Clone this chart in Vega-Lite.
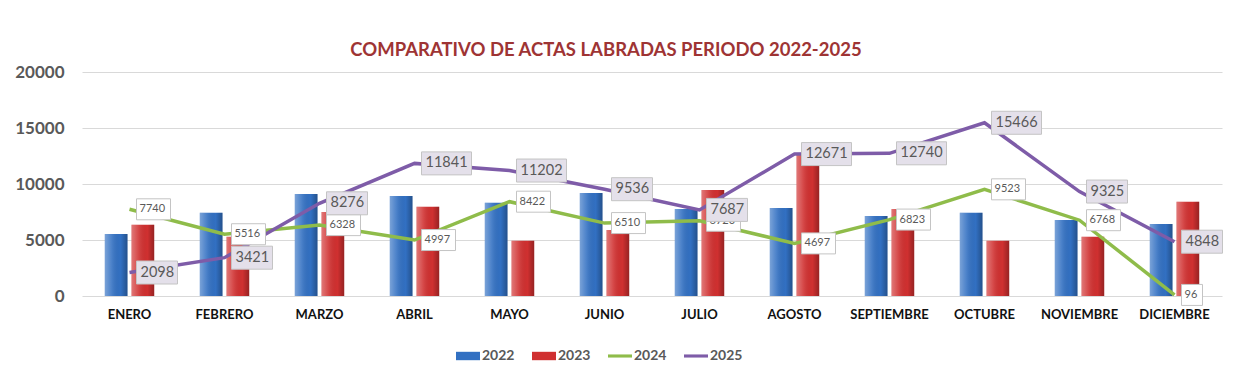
{
  "$schema": "https://vega.github.io/schema/vega-lite/v6.json",
  "autosize": {"type": "none"},
  "width": 1140,
  "height": 224,
  "padding": {"left": 82, "top": 72, "right": 28, "bottom": 93},
  "background": "white",
  "title": {
    "text": "COMPARATIVO DE ACTAS LABRADAS PERIODO 2022-2025",
    "font": "Lato",
    "fontSize": 18.5,
    "fontWeight": "bold",
    "color": "#9e3434",
    "anchor": "middle",
    "dx": -46,
    "offset": 4
  },
  "config": {
    "view": {"stroke": null},
    "font": "Lato"
  },
  "data": {
    "values": [
      {"month": "ENERO", "year": "2022", "value": 5540},
      {"month": "FEBRERO", "year": "2022", "value": 7440},
      {"month": "MARZO", "year": "2022", "value": 9100},
      {"month": "ABRIL", "year": "2022", "value": 8930},
      {"month": "MAYO", "year": "2022", "value": 8330},
      {"month": "JUNIO", "year": "2022", "value": 9190},
      {"month": "JULIO", "year": "2022", "value": 7770},
      {"month": "AGOSTO", "year": "2022", "value": 7850},
      {"month": "SEPTIEMBRE", "year": "2022", "value": 7140},
      {"month": "OCTUBRE", "year": "2022", "value": 7440},
      {"month": "NOVIEMBRE", "year": "2022", "value": 6790},
      {"month": "DICIEMBRE", "year": "2022", "value": 6430},
      {"month": "ENERO", "year": "2023", "value": 6370},
      {"month": "FEBRERO", "year": "2023", "value": 5290},
      {"month": "MARZO", "year": "2023", "value": 7500},
      {"month": "ABRIL", "year": "2023", "value": 7970},
      {"month": "MAYO", "year": "2023", "value": 4940},
      {"month": "JUNIO", "year": "2023", "value": 5890},
      {"month": "JULIO", "year": "2023", "value": 9460},
      {"month": "AGOSTO", "year": "2023", "value": 12600},
      {"month": "SEPTIEMBRE", "year": "2023", "value": 7760},
      {"month": "OCTUBRE", "year": "2023", "value": 4940},
      {"month": "NOVIEMBRE", "year": "2023", "value": 5300},
      {"month": "DICIEMBRE", "year": "2023", "value": 8420},
      {"month": "ENERO", "year": "2024", "value": 7740},
      {"month": "FEBRERO", "year": "2024", "value": 5516},
      {"month": "MARZO", "year": "2024", "value": 6328},
      {"month": "ABRIL", "year": "2024", "value": 4997},
      {"month": "MAYO", "year": "2024", "value": 8422},
      {"month": "JUNIO", "year": "2024", "value": 6510},
      {"month": "JULIO", "year": "2024", "value": 6720},
      {"month": "AGOSTO", "year": "2024", "value": 4697},
      {"month": "SEPTIEMBRE", "year": "2024", "value": 6823},
      {"month": "OCTUBRE", "year": "2024", "value": 9523},
      {"month": "NOVIEMBRE", "year": "2024", "value": 6768},
      {"month": "DICIEMBRE", "year": "2024", "value": 96},
      {"month": "ENERO", "year": "2025", "value": 2098},
      {"month": "FEBRERO", "year": "2025", "value": 3421},
      {"month": "MARZO", "year": "2025", "value": 8276},
      {"month": "ABRIL", "year": "2025", "value": 11841},
      {"month": "MAYO", "year": "2025", "value": 11202},
      {"month": "JUNIO", "year": "2025", "value": 9536},
      {"month": "JULIO", "year": "2025", "value": 7687},
      {"month": "AGOSTO", "year": "2025", "value": 12671},
      {"month": "SEPTIEMBRE", "year": "2025", "value": 12740},
      {"month": "OCTUBRE", "year": "2025", "value": 15466},
      {"month": "NOVIEMBRE", "year": "2025", "value": 9325},
      {"month": "DICIEMBRE", "year": "2025", "value": 4848}
    ]
  },
  "encoding": {
    "x": {
      "field": "month",
      "type": "nominal",
      "sort": ["ENERO","FEBRERO","MARZO","ABRIL","MAYO","JUNIO","JULIO","AGOSTO","SEPTIEMBRE","OCTUBRE","NOVIEMBRE","DICIEMBRE"],
      "scale": {"paddingInner": 0.48, "paddingOuter": 0.24},
      "axis": {
        "title": null,
        "labelAngle": 0,
        "labelFont": "Lato",
        "labelFontSize": 13,
        "labelFontWeight": "bold",
        "labelColor": "#111111",
        "labelPadding": 12,
        "domain": false,
        "ticks": false,
        "grid": false
      }
    },
    "y": {
      "field": "value",
      "type": "quantitative",
      "scale": {"domain": [0, 20000], "nice": false},
      "axis": {
        "title": null,
        "values": [0, 5000, 10000, 15000, 20000],
        "format": "d",
        "labelFont": "Lato",
        "labelFontSize": 17,
        "labelFontWeight": "bold",
        "labelColor": "#595959",
        "labelPadding": 18,
        "domain": false,
        "ticks": false,
        "grid": true,
        "gridColor": "#d9d9d9",
        "gridWidth": 1
      }
    }
  },
  "layer": [
    {
      "transform": [{"filter": "datum.year == '2022' || datum.year == '2023'"}],
      "mark": {"type": "bar"},
      "encoding": {
        "xOffset": {"field": "year", "type": "nominal", "scale": {"paddingInner": 0.15, "paddingOuter": 0}},
        "color": {
          "field": "year",
          "type": "nominal",
          "scale": {"domain": ["2022","2023","2024","2025"], "range": ["#3270c2","#d03030","#8fbc4a","#7e5ca8"]},
          "legend": {
            "title": null,
            "orient": "none",
            "legendX": 374,
            "legendY": 272,
            "direction": "horizontal",
            "padding": 0,
            "labelFont": "Lato",
            "labelFontSize": 14,
            "labelFontWeight": "bold",
            "labelColor": "#595959",
            "labelOffset": 2,
            "columnPadding": 17,
            "symbolSize": 576,
            "encode": {
              "symbols": {
                "update": {
                  "shape": {"signal": "(datum.value == '2022' || datum.value == '2023') ? 'M-1,-0.35H1V0.35H-1Z' : 'M-1,-0.13H1V0.13H-1Z'"},
                  "fill": {"signal": "scale('color', datum.value)"},
                  "stroke": {"value": "transparent"},
                  "strokeWidth": {"value": 0},
                  "opacity": {"value": 1}
                }
              }
            }
          }
        }
      }
    },
    {
      "transform": [{"filter": "datum.year == '2022' || datum.year == '2023'"}],
      "mark": {
        "type": "bar",
        "color": {
          "gradient": "linear",
          "x1": 0, "x2": 1, "y1": 0, "y2": 0,
          "stops": [
            {"offset": 0, "color": "rgba(255,255,255,0.35)"},
            {"offset": 0.3, "color": "rgba(255,255,255,0.12)"},
            {"offset": 0.7, "color": "rgba(0,0,0,0.0)"},
            {"offset": 1, "color": "rgba(0,0,0,0.28)"}
          ]
        }
      },
      "encoding": {
        "xOffset": {"field": "year", "type": "nominal", "scale": {"paddingInner": 0.15, "paddingOuter": 0}}
      }
    },
    {
      "transform": [{"filter": "datum.year == '2024' || datum.year == '2025'"}],
      "mark": {"type": "line", "strokeWidth": 3.5},
      "encoding": {
        "color": {"field": "year", "type": "nominal"}
      }
    },
    {
      "transform": [{"filter": "datum.year == '2024'"}],
      "mark": {"type": "point", "filled": true, "fill": "white", "stroke": "#c4c4c4", "strokeWidth": 1, "opacity": 1},
      "encoding": {
        "size": {"value": 400},
        "shape": {"condition": {"test": "datum.value < 100", "value": "M0.7,-1.05H2.8V1.05H0.7Z"}, "value": "M0.7,-1.05H4.1V1.05H0.7Z"}
      }
    },
    {
      "transform": [{"filter": "datum.year == '2024'"}],
      "mark": {"type": "text", "align": "left", "baseline": "middle", "dx": 10, "font": "Lato", "fontSize": 11, "color": "#595959"},
      "encoding": {
        "text": {"field": "value", "type": "quantitative", "format": "d"}
      }
    },
    {
      "transform": [{"filter": "datum.year == '2025'"}],
      "mark": {"type": "point", "filled": true, "fill": "#e4e0ea", "stroke": "#c4c4c4", "strokeWidth": 1, "opacity": 1},
      "encoding": {
        "size": {"value": 400},
        "shape": {"condition": {"test": "datum.value >= 10000", "value": "M0.7,-1.15H5.7V1.15H0.7Z"}, "value": "M0.7,-1.15H4.8V1.15H0.7Z"}
      }
    },
    {
      "transform": [{"filter": "datum.year == '2025'"}],
      "mark": {"type": "text", "align": "left", "baseline": "middle", "dx": 11, "font": "Lato", "fontSize": 14.5, "color": "#595959"},
      "encoding": {
        "text": {"field": "value", "type": "quantitative", "format": "d"}
      }
    }
  ]
}
